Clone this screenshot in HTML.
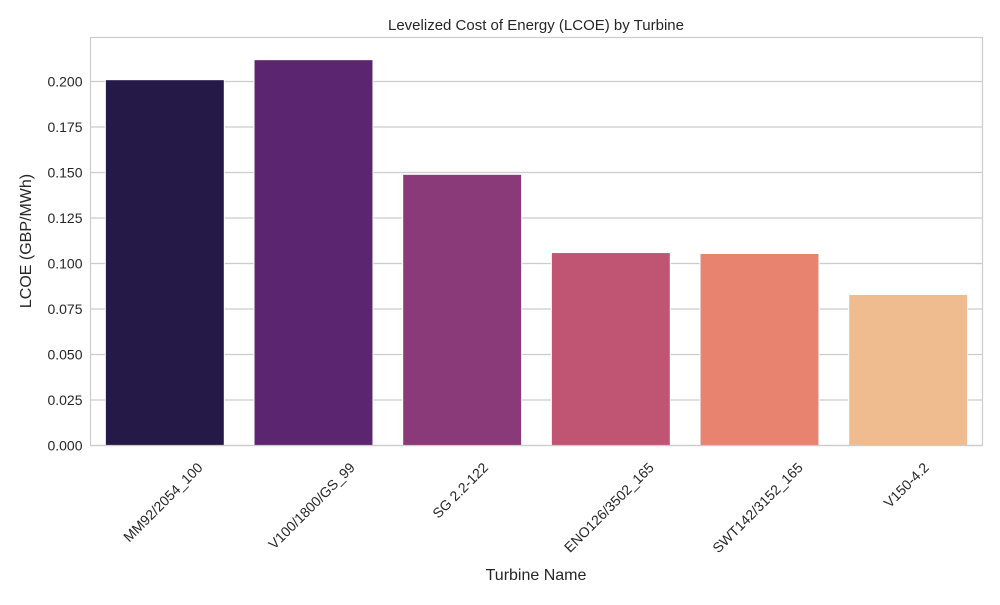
<!DOCTYPE html>
<html><head><meta charset="utf-8"><style>
body{margin:0;background:#fff;font-family:"Liberation Sans","DejaVu Sans",sans-serif}
</style></head><body>
<svg id="chart" width="1000" height="600" xmlns="http://www.w3.org/2000/svg" font-family="Liberation Sans, DejaVu Sans, sans-serif">
<text x="536" y="30" text-anchor="middle" font-size="15" fill="#262626">Levelized Cost of Energy (LCOE) by Turbine</text>
<g id="grid"></g><g id="bars"></g><g id="xt"></g><g id="yt"></g>
<rect x="90.5" y="37.5" width="892" height="408" fill="none" stroke="#cccccc" stroke-width="1.2"/>
<text x="536" y="580" text-anchor="middle" font-size="16" fill="#262626">Turbine Name</text>
<text transform="translate(31,241) rotate(-90)" text-anchor="middle" font-size="16" fill="#262626">LCOE (GBP/MWh)</text>
</svg>
<script>
const categories=["MM92/2054_100","V100/1800/GS_99","SG 2.2-122","ENO126/3502_165","SWT142/3152_165","V150-4.2"];
const values=[0.201,0.212,0.149,0.106,0.1055,0.083];
const colors=["#251a47","#5c2570","#8a3a78","#c05473","#e7836f","#efbc8f"];
const yTicks=[0,0.025,0.05,0.075,0.1,0.125,0.15,0.175,0.2];
const NS="http://www.w3.org/2000/svg";
const X0=90.5,W=892,Y0=445.5,PX=1820;
const y=v=>Y0-v*PX;
const band=W/categories.length;
const xc=i=>X0+band*(i+0.5);
function mk(t,a,p){const e=document.createElementNS(NS,t);for(const k in a)e.setAttribute(k,a[k]);document.getElementById(p).appendChild(e);return e;}
yTicks.forEach(v=>{
 const l=mk("line",{x1:X0,x2:X0+W,y1:y(v),y2:y(v),stroke:"#cccccc","stroke-width":1.2},"grid");
 
 
 const t=mk("text",{x:X0-8,y:y(v)+5,"text-anchor":"end","font-size":14,fill:"#262626"},"yt");
 
 
 t.textContent=v.toFixed(3);
});
categories.forEach((c,i)=>{
 const bw=band*0.8;
 const r=mk("rect",{x:xc(i)-bw/2,y:y(values[i]),width:bw,height:values[i]*PX,fill:colors[i],stroke:"#ffffff","stroke-width":1},"bars");
 
 
 const t=mk("text",{"text-anchor":"middle","font-size":14,fill:"#262626"},"xt");
 
 
 t.textContent=c;
 const w=t.getComputedTextLength();
 const h=(w+14)*Math.SQRT1_2;
 const cy=460+h/2;
 t.setAttribute("transform",`translate(${xc(i)-2},${cy}) rotate(-45)`);
 t.setAttribute("y",5);
});
</script>
</body></html>
